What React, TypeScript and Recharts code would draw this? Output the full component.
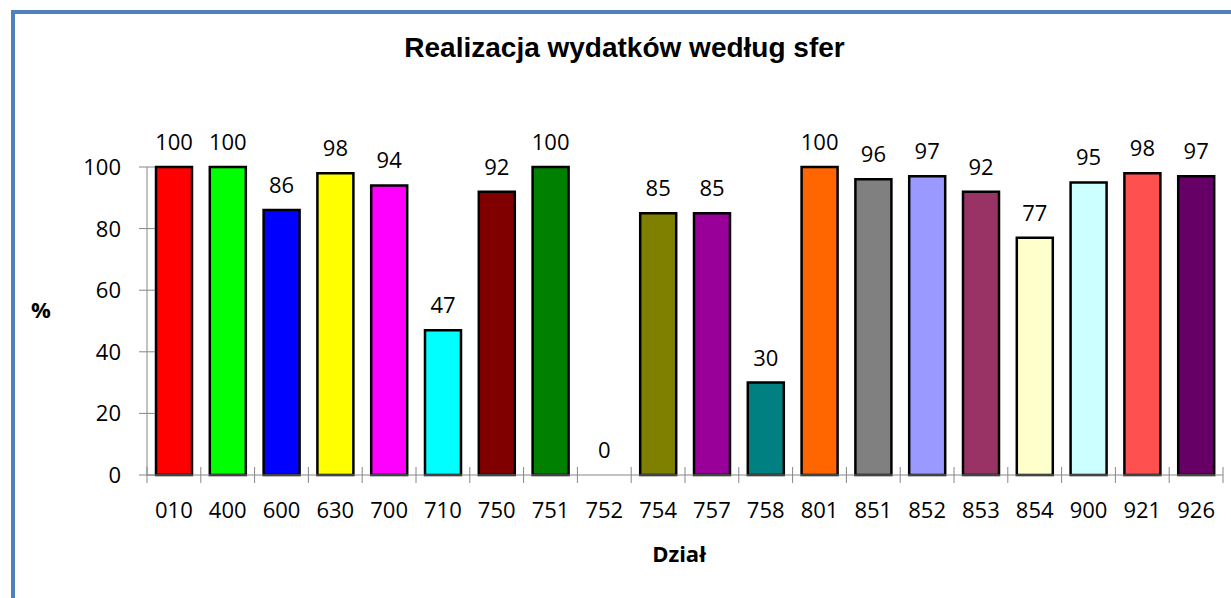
import { BarChart, Bar, XAxis, YAxis, Cell, LabelList, ReferenceDot } from 'recharts'

const categories = ['010', '400', '600', '630', '700', '710', '750', '751', '752', '754', '757', '758', '801', '851', '852', '853', '854', '900', '921', '926']
const values = [100, 100, 86, 98, 94, 47, 92, 100, 0, 85, 85, 30, 100, 96, 97, 92, 77, 95, 98, 97]
const colors = ['#FF0000', '#00FF00', '#0000FF', '#FFFF00', '#FF00FF', '#00FFFF', '#800000', '#008000', '#FFFFFF', '#808000', '#990099', '#008080', '#FF6600', '#808080', '#9999FF', '#993366', '#FFFFCC', '#CCFFFF', '#FF5050', '#660066']
const yTicks = [0, 20, 40, 60, 80, 100]

const W = 1231
const H = 598
const PLOT_LEFT = 147
const PLOT_RIGHT = 1223
const PLOT_TOP = 167
const PLOT_BOTTOM = 475
const Y_AXIS_W = 60
const X_AXIS_H = 30
const BAND = (PLOT_RIGHT - PLOT_LEFT) / categories.length
const AXIS_COLOR = '#868686'
const NUM_FONT = '"Open Sans", sans-serif'

const data = categories.map((c, i) => ({ name: c, value: values[i], color: colors[i] }))

function XTick({ x, y, payload, index }: any) {
  const left = x - BAND / 2
  const isLast = index === categories.length - 1
  return (
    <g>
      <line x1={left} x2={left} y1={y - 8} y2={y + 8} stroke={AXIS_COLOR} />
      {isLast && <line x1={x + BAND / 2} x2={x + BAND / 2} y1={y - 8} y2={y + 8} stroke={AXIS_COLOR} />}
      <text x={x} y={y + 43} textAnchor="middle" fontFamily={NUM_FONT} fontSize={22} fill="#000">
        {payload.value}
      </text>
    </g>
  )
}

function YTick({ x, y, payload }: any) {
  return (
    <g>
      <line x1={x - 8} x2={x + 8} y1={y} y2={y} stroke={AXIS_COLOR} />
      <text x={x - 26} y={y + 8} textAnchor="end" fontFamily={NUM_FONT} fontSize={22} fill="#000">
        {payload.value}
      </text>
    </g>
  )
}

const labelStyle = { fill: '#000', fontSize: 22, fontFamily: NUM_FONT }

export default function App() {
  return (
    <div style={{ position: 'absolute', left: 0, top: 0, width: W, height: H, overflow: 'hidden', background: '#fff' }}>
      <div
        style={{
          position: 'absolute',
          left: 11,
          top: 10,
          width: 1300,
          height: 700,
          borderLeft: '4px solid #4F81BD',
          borderTop: '4px solid #4F81BD',
        }}
      />
      <BarChart
        width={W}
        height={H}
        data={data}
        margin={{
          top: PLOT_TOP,
          right: W - PLOT_RIGHT,
          bottom: H - PLOT_BOTTOM - X_AXIS_H,
          left: PLOT_LEFT - Y_AXIS_W,
        }}
      >
        <XAxis
          dataKey="name"
          interval={0}
          height={X_AXIS_H}
          tickSize={0}
          tickMargin={0}
          tickLine={false}
          axisLine={{ stroke: AXIS_COLOR }}
          tick={<XTick />}
        />
        <YAxis
          width={Y_AXIS_W}
          domain={[0, 100]}
          ticks={yTicks}
          tickSize={0}
          tickMargin={0}
          tickLine={false}
          axisLine={{ stroke: AXIS_COLOR }}
          tick={<YTick />}
        />
        <Bar dataKey="value" barSize={36} isAnimationActive={false}>
          {data.map((d) => (
            <Cell key={d.name} fill={d.color} stroke="#000" strokeWidth={2.5} />
          ))}
          <LabelList dataKey="value" position="top" offset={17} {...labelStyle} />
        </Bar>
        {/* zero-height bars get no label from LabelList, so add it here */}
        {data
          .filter((d) => d.value === 0)
          .map((d) => (
            <ReferenceDot
              key={'zero-' + d.name}
              x={d.name}
              y={d.value}
              r={0}
              fill="none"
              stroke="none"
              label={{ value: d.value, position: 'top', offset: 17, ...labelStyle }}
            />
          ))}
      </BarChart>
      <svg width={W} height={H} style={{ position: 'absolute', left: 0, top: 0, pointerEvents: 'none' }}>
        <text x={624.5} y={57} textAnchor="middle" fontFamily='"Liberation Sans", Arial, sans-serif' fontWeight="bold" fontSize={28} fill="#000">
          Realizacja wydatków według sfer
        </text>
        <text x={41} y={318} textAnchor="middle" fontFamily={NUM_FONT} fontWeight="bold" fontSize={22} fill="#000">
          %
        </text>
        <text x={679} y={562} textAnchor="middle" fontFamily={NUM_FONT} fontWeight="bold" fontSize={22} fill="#000">
          Dział
        </text>
      </svg>
    </div>
  )
}
